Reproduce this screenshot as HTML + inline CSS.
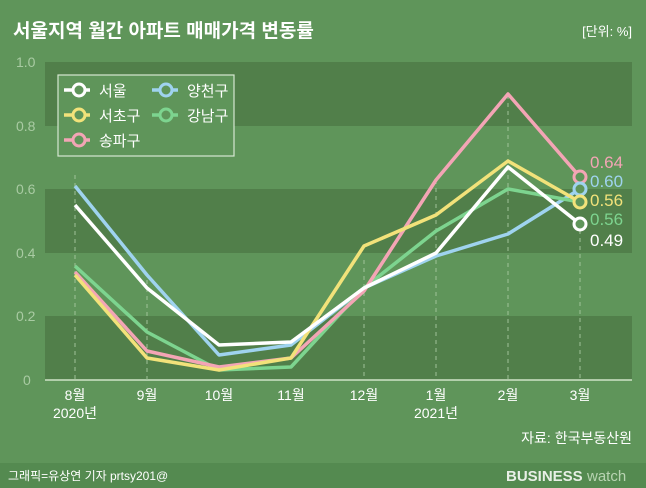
<!DOCTYPE html>
<html><head><meta charset="utf-8"><style>
html,body{margin:0;padding:0;width:646px;height:488px;overflow:hidden;background:#5e9459;}
svg text{font-family:"Liberation Sans","Noto Sans CJK KR",sans-serif;}
</style></head><body>
<svg width="646" height="488" viewBox="0 0 646 488" xmlns="http://www.w3.org/2000/svg">
<rect width="646" height="488" fill="#5f955a"/>
<rect y="463" width="646" height="25" fill="#548a50"/>
<text x="13" y="37" font-size="19" fill="#fff" font-weight="bold">서울지역 월간 아파트 매매가격 변동률</text>
<text x="632" y="36" font-size="13" fill="#fff" text-anchor="end">[단위: %]</text>
<rect x="45" y="62" width="587" height="64" fill="#517f4a"/>
<rect x="45" y="189" width="587" height="64" fill="#517f4a"/>
<rect x="45" y="316" width="587" height="64" fill="#517f4a"/>
<line x1="45" y1="380" x2="632" y2="380" stroke="#cfe3c8" stroke-width="1.5"/>
<g fill="#a9cba3" font-size="14">
<text x="16" y="67">1.0</text><text x="16" y="131">0.8</text><text x="16" y="194">0.6</text>
<text x="16" y="258">0.4</text><text x="16" y="321">0.2</text><text x="23" y="385">0</text>
</g>
<g stroke="#9fc298" stroke-dasharray="4,4" stroke-width="1">
<line x1="75" y1="175" x2="75" y2="380"/><line x1="147" y1="280" x2="147" y2="380"/>
<line x1="364" y1="260" x2="364" y2="380"/><line x1="436" y1="180" x2="436" y2="380"/>
<line x1="508" y1="95" x2="508" y2="380"/><line x1="580" y1="230" x2="580" y2="380"/>
</g>
<g fill="#fff" font-size="14" text-anchor="middle">
<text x="75" y="400">8월</text><text x="75" y="418">2020년</text>
<text x="147" y="400">9월</text><text x="219" y="400">10월</text><text x="291" y="400">11월</text>
<text x="364" y="400">12월</text><text x="436" y="400">1월</text><text x="436" y="418">2021년</text>
<text x="508" y="400">2월</text><text x="580" y="400">3월</text>
</g>
<text x="632" y="443" font-size="14" fill="#fff" text-anchor="end">자료: 한국부동산원</text>
<text x="8" y="480" font-size="12" fill="#fff">그래픽=유상연 기자 prtsy201@</text>
<text x="506" y="481" font-size="15" fill="#e8efe6" font-weight="bold" font-family="Liberation Sans">BUSINESS</text>
<text x="587" y="481" font-size="15" fill="#b8d4b2" font-family="Liberation Sans">watch</text>
<g fill="none" stroke-width="3.5" stroke-linejoin="round">
<polyline stroke="#9fd3ef" points="75,186 147,275 219,355 291,345 364,288 436,256 508,234 580,189"/>
<polyline stroke="#7dd48f" points="75,266 147,332 219,370 291,367 364,288 436,231 508,189 580,202"/>
<polyline stroke="#f3a5b5" points="75,272 147,351 219,367 291,358 364,291 436,180 508,94 580,177"/>
<polyline stroke="#f2e27a" points="75,275 147,358 219,370 291,358 364,246 436,215 508,161 580,202"/>
<polyline stroke="#ffffff" points="75,205 147,288 219,345 291,342 364,288 436,253 508,167 580,224"/>
</g>
<g fill="#5f955a" stroke-width="3">
<circle cx="580" cy="177" r="6" stroke="#f3a5b5"/>
<circle cx="580" cy="189" r="6" stroke="#9fd3ef"/>
<circle cx="580" cy="202" r="6" stroke="#f2e27a"/>
<circle cx="580" cy="224" r="6" stroke="#ffffff"/>
</g>
<g font-size="17">
<text x="590" y="168" fill="#f3a5b5">0.64</text>
<text x="590" y="187" fill="#9fd3ef">0.60</text>
<text x="590" y="206" fill="#f2e27a">0.56</text>
<text x="590" y="225" fill="#7dd48f">0.56</text>
<text x="590" y="246" fill="#ffffff">0.49</text>
</g>
<rect x="58" y="75" width="176" height="81" fill="#5f955a" stroke="#d6e7d1" stroke-width="1.2"/>
<g stroke-width="3.5">
<line x1="64" y1="90" x2="90" y2="90" stroke="#fff"/><circle cx="79" cy="90" r="6" fill="#5f955a" stroke="#fff" stroke-width="3"/>
<line x1="64" y1="115" x2="90" y2="115" stroke="#f2e27a"/><circle cx="79" cy="115" r="6" fill="#5f955a" stroke="#f2e27a" stroke-width="3"/>
<line x1="64" y1="140" x2="90" y2="140" stroke="#f3a5b5"/><circle cx="79" cy="140" r="6" fill="#5f955a" stroke="#f3a5b5" stroke-width="3"/>
<line x1="152" y1="90" x2="178" y2="90" stroke="#9fd3ef"/><circle cx="166" cy="90" r="6" fill="#5f955a" stroke="#9fd3ef" stroke-width="3"/>
<line x1="152" y1="115" x2="178" y2="115" stroke="#7dd48f"/><circle cx="166" cy="115" r="6" fill="#5f955a" stroke="#7dd48f" stroke-width="3"/>
</g>
<g fill="#fff" font-size="15">
<text x="99" y="96">서울</text><text x="99" y="121">서초구</text><text x="99" y="146">송파구</text>
<text x="187" y="96">양천구</text><text x="187" y="121">강남구</text>
</g>
</svg>
</body></html>
